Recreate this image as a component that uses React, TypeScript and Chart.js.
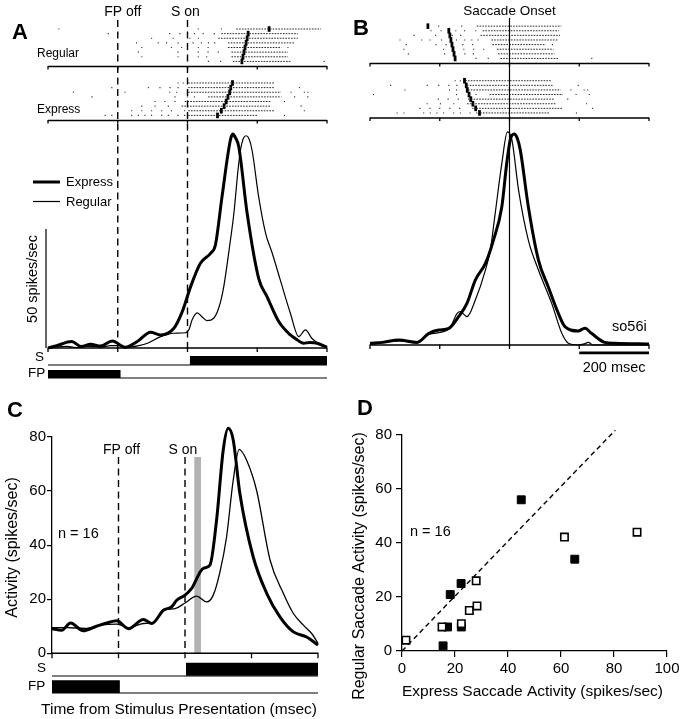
import React, { useEffect, useRef } from 'react';
import { Chart, registerables } from 'chart.js';
Chart.register(...registerables);

const FONT = '"Liberation Sans", Arial, Helvetica, sans-serif';

// ---------- shared time axis (ms) ----------
const timeTicks = [-400, -200, 0, 200, 400];
const fpOffTime = -200;
const stimOnTime = 0;
const fpBarA = [-400, -192];
const sBarA = [7, 400];
const fpBarC = [-400, -196];
const sBarC = [3, 400];
const scaleBarB = [200, 400];
const spikeScaleBar = 50;
const analysisWindow = [28, 48];
const analysisWindowTop = 72.6;

// ---------- Panel A rasters (time from stimulus): saccade mark, dense bursts, isolated spikes ----------
const rasterRegularA = [
  { mark: 234, dense: [[140, 383]], spikes: [-369, 31, 97] },
  { mark: 174, dense: [[97, 316]], spikes: [-227, -51, -22, 20, 45, 77] },
  { mark: 171, dense: [[88, 316]], spikes: [-103, -41, 7, 31] },
  { mark: 168, dense: [[116, 307]], spikes: [-146, -84, -60, -27, 16, 40, 60, 78] },
  { mark: 165, dense: [[116, 269]], spikes: [-131, -46, -17, 31, 59, 288] },
  { mark: 162, dense: [[126, 288]], spikes: [-141, -27, 31, 59, 88] },
  { mark: 159, dense: [[126, 288]], spikes: [-131, -27, 31, 55] },
  { mark: 156, dense: [[130, 297]], spikes: [60, 95, 392] },
];
const rasterExpressA = [
  { mark: 129, dense: [[2, 249]], spikes: [-27, -12] },
  { mark: 124, dense: [[2, 249]], spikes: [-217, -112, -79, -50, -27, 321] },
  { mark: 121, dense: [[2, 268]], spikes: [-327, -179, -51, -31, 297, 335, 345] },
  { mark: 116, dense: [[59, 269]], spikes: [-274, -36, 0, 20, 307, 345] },
  { mark: 111, dense: [[-8, 240]], spikes: [-93, -65, -36, 278] },
  { mark: 105, dense: [[-17, 240]], spikes: [-131, -93, -55, 326] },
  { mark: 97, dense: [[2, 249]], spikes: [-160, -131, -103, -74, -46, -8, 335] },
  { mark: 86, dense: [[2, 202]], spikes: [-236, -217, -160, -141, -122, -103, -74, -55, -27, -8, 278] },
];

// ---------- Panel A spike density (time from stimulus) ----------
const histAExpressT = [-400, -375, -332, -304, -278, -249, -216, -178, -144, -106, -77, -39, -15, 9, 37, 66, 80, 99, 123, 130, 137, 147, 171, 204, 228, 262, 295, 309, 333, 350, 372, 400];
const histAExpressV = [0, 1, 2.7, 0.6, 1.6, 0.8, 2.9, 0.3, 2.7, 6.6, 5.5, 8.3, 15.3, 25.8, 35.6, 39.8, 43.3, 63.6, 87.4, 89.9, 88.5, 84.6, 56.6, 29.3, 21.6, 11, 5.5, 4, 2, 2.3, 2, 0.3];
const histARegularT = [-400, -346, -320, -290, -249, -220, -196, -172, -140, -115, -77, -39, -6, 5, 13, 28, 42, 56, 75, 90, 104, 120, 133, 145, 152, 160, 168, 176, 185, 204, 224, 243, 266, 295, 319, 338, 357, 381, 400];
const histARegularV = [0, 0.7, 0.2, 0.8, 0.4, 1, 1, 0.3, 1, 2, 4.8, 6.2, 6.4, 8, 11.8, 14.8, 13, 11.5, 12.5, 17, 25.8, 42, 56.6, 75, 83.2, 88, 89.2, 88, 83.2, 63.6, 48.2, 39.8, 28.6, 14.6, 4.8, 7.6, 4, 1.3, 0.3];

// ---------- Panel B spike density (time from saccade onset) ----------
const histBExpressT = [-400, -365, -317, -265, -231, -203, -174, -146, -122, -98, -69, -46, -22, -8, 2, 13, 22, 31, 54, 83, 111, 140, 159, 197, 216, 235, 273, 303, 400];
const histBExpressV = [0.7, 1.1, 2.1, 1.1, 4.9, 6.3, 7, 11.9, 17.5, 27.3, 34.3, 44.1, 58.1, 76.3, 86.1, 88.7, 87, 81.9, 58.1, 35.7, 24.5, 13.3, 7.7, 5.9, 7, 4.9, 1.1, 0.7, 0.4];
const histBRegularT = [-400, -317, -265, -231, -174, -150, -141, -122, -98, -69, -55, -41, -22, -6, 7, 26, 54, 83, 121, 150, 169, 197, 215, 226, 240, 400];
const histBRegularV = [0.2, 1.7, 1.1, 4.5, 6.6, 13.3, 14, 11.9, 18.9, 31.5, 39.9, 55.3, 76.3, 89.6, 86.1, 65.1, 44.1, 31.5, 17.5, 4.9, 0.7, 0, 0.5, 1.1, 0, 0];

// ---------- Panel C population average (n = 16) ----------
const popExpressT = [-400, -371, -344, -306, -266, -235, -205, -170, -125, -100, -65, -40, -25, 0, 20, 55, 75, 95, 115, 130, 145, 165, 205, 246, 286, 326, 366, 400];
const popExpressV = [9.1, 8.5, 11.2, 8.3, 10, 11.2, 12, 9.1, 12.5, 11, 15.9, 17.2, 19.6, 21.5, 24, 31.4, 32.6, 49.3, 75.2, 83.2, 78.9, 59.1, 35.7, 22.1, 13.4, 7.9, 6, 3];
const popRegularT = [-400, -355, -300, -250, -205, -170, -125, -100, -60, -30, 0, 35, 65, 85, 105, 125, 145, 163, 185, 215, 256, 296, 326, 356, 381, 400];
const popRegularV = [9.5, 9.5, 9.2, 10.5, 10.8, 9.4, 11, 11.2, 16, 16.5, 18.6, 21.1, 19, 21.5, 30, 43, 64, 75.4, 71.5, 60.4, 34.4, 22.1, 14.7, 10.4, 7.3, 3.7];

// ---------- Panel D scatter ----------
const filledX = [15.5, 17.2, 18.2, 22.3, 22.4, 45, 65.2];
const filledY = [1.9, 8.9, 20.9, 25, 8.9, 56, 34];
const openX = [1.5, 15.1, 22.4, 25.4, 28.3, 28, 61.3, 88.7];
const openY = [4, 8.9, 10.1, 15, 16.7, 26, 42.2, 44];
const unityX = [0, 80.5];
const unityY = [0, 81.8];
const dTicks = { xMax: 100, yMax: 80, step: 20 };

// ---------- helpers ----------
const xy = (ts: number[], vs: number[]) => ts.map((t, i) => ({ x: t, y: vs[i] }));
const inRange = (t: number) => t >= -400 && t <= 400;
const DASH = [7, 4.5];

function lineDS(data: any[], yAxisID: string, width: number, extra: any = {}) {
  return {
    type: 'line', data, yAxisID, xAxisID: 'x', borderColor: '#000', backgroundColor: '#000',
    borderWidth: width, pointRadius: 0, fill: false, clip: false, tension: 0,
    borderCapStyle: 'butt', borderJoinStyle: 'round', ...extra,
  };
}
function curveDS(ts: number[], vs: number[], yAxisID: string, width: number) {
  return lineDS(xy(ts, vs), yAxisID, width, { cubicInterpolationMode: 'monotone' });
}
function alignOnSaccade(rows: any[]) {
  return rows.map((r) => ({
    mark: -r.mark,
    dense: r.dense.map(([s, e]: number[]) => [s - r.mark, e - r.mark]),
    spikes: r.spikes.map((t: number) => t - r.mark),
  }));
}
function rasterDatasets(rows: any[], yAxisID: string) {
  const n = rows.length;
  const out: any[] = [];
  rows.forEach((r, i) => {
    const y = n - i;
    r.dense.forEach(([s, e]: number[]) => {
      const a = Math.max(s, -400), b = Math.min(e, 400);
      if (b > a) out.push(lineDS([{ x: a, y }, { x: b, y }], yAxisID, 1, { borderDash: [1.6, 1.2], borderColor: '#2a2a2a' }));
    });
  });
  const spikes: any[] = [];
  rows.forEach((r, i) => r.spikes.filter(inRange).forEach((t: number) => spikes.push({ x: t, y: n - i })));
  out.push({ type: 'scatter', data: spikes, yAxisID, xAxisID: 'x', clip: false, pointStyle: 'rect', pointRadius: 0.8, borderWidth: 0, backgroundColor: '#333' });
  const marks: any[] = [];
  rows.forEach((r, i) => { if (inRange(r.mark)) marks.push({ x: r.mark, y: n - i }); });
  out.push({ type: 'scatter', data: marks, yAxisID, xAxisID: 'x', clip: false, pointStyle: 'line', rotation: 90, pointRadius: 2.8, borderWidth: 2.8, borderColor: '#000' });
  return out;
}
function hiddenY(min: number, max: number, stack: string, stackWeight: number, weight: number) {
  return { type: 'linear', axis: 'y', position: 'left', display: false, min, max, stack, stackWeight, weight };
}

function text(ctx: any, s: string, x: number, y: number, size: number, align = 'left', opts: any = {}) {
  ctx.save();
  ctx.font = `${opts.bold ? 'bold ' : ''}${size}px ${FONT}`;
  ctx.fillStyle = '#000';
  ctx.textAlign = align;
  ctx.textBaseline = opts.baseline || 'middle';
  if (opts.rot) { ctx.translate(x, y); ctx.rotate(opts.rot); ctx.fillText(s, 0, 0); }
  else ctx.fillText(s, x, y);
  ctx.restore();
}
function seg(ctx: any, x1: number, y1: number, x2: number, y2: number, w = 1.2, dash: number[] = []) {
  ctx.save();
  ctx.strokeStyle = '#000'; ctx.lineWidth = w; ctx.setLineDash(dash); ctx.lineCap = 'butt';
  ctx.beginPath(); ctx.moveTo(x1, y1); ctx.lineTo(x2, y2); ctx.stroke();
  ctx.restore();
}
function timeAxis(ctx: any, xs: any, y: number, tickLen: number, w = 1.3) {
  seg(ctx, xs.getPixelForValue(-400), y, xs.getPixelForValue(400), y, w);
  timeTicks.forEach((t) => { const p = xs.getPixelForValue(t); seg(ctx, p, y - 0.5, p, y + tickLen, w); });
}

const baseOptions = (padding: any) => ({
  responsive: false, animation: false, devicePixelRatio: 1, events: [],
  layout: { padding, autoPadding: false },
  plugins: { legend: { display: false }, tooltip: { enabled: false } },
});

// ---------- Panel A ----------
function configA() {
  const decor = {
    id: 'decorA',
    afterDraw(chart: any) {
      const { ctx } = chart;
      const x = chart.scales.x, yR = chart.scales.yReg, yE = chart.scales.yExp, yH = chart.scales.yHist;
      const base = yH.getPixelForValue(0);
      seg(ctx, x.getPixelForValue(fpOffTime), 20, x.getPixelForValue(fpOffTime), base + 1, 1.4, DASH);
      seg(ctx, x.getPixelForValue(stimOnTime), 20, x.getPixelForValue(stimOnTime), base + 4, 1.4, DASH);
      timeAxis(ctx, x, yR.bottom, 3);
      timeAxis(ctx, x, yE.bottom, 3);
      timeAxis(ctx, x, base, 4);
      text(ctx, 'A', 12, 39, 22, 'left', { bold: true, baseline: 'alphabetic' });
      text(ctx, 'FP off', x.getPixelForValue(fpOffTime) + 5, 12, 14, 'center');
      text(ctx, 'S on', x.getPixelForValue(stimOnTime) - 2, 12, 14, 'center');
      text(ctx, 'Regular', 37, 54, 12);
      text(ctx, 'Express', 37, 110, 12);
      seg(ctx, 33, 182, 60, 182, 3);
      text(ctx, 'Express', 66, 182.5, 13);
      seg(ctx, 33, 201.5, 60, 201.5, 1.2);
      text(ctx, 'Regular', 66, 202.5, 13);
      seg(ctx, 46, base, 46, yH.getPixelForValue(spikeScaleBar), 1.2);
      text(ctx, '50 spikes/sec', 33, 279, 14.5, 'center', { rot: -Math.PI / 2 });
      text(ctx, 'S', 35, 357, 13.5);
      text(ctx, 'FP', 28, 373, 13.5);
    },
  };
  return {
    type: 'scatter',
    data: {
      datasets: [
        ...rasterDatasets(rasterRegularA, 'yReg'),
        ...rasterDatasets(rasterExpressA, 'yExp'),
        curveDS(histARegularT, histARegularV, 'yHist', 1.2),
        curveDS(histAExpressT, histAExpressV, 'yHist', 3),
        lineDS([{ x: -400, y: 0 }, { x: 400, y: 0 }], 'yS', 1.2),
        lineDS([{ x: sBarA[0], y: 0.265 }, { x: sBarA[1], y: 0.265 }], 'yS', 9),
        lineDS([{ x: -400, y: 0 }, { x: 400, y: 0 }], 'yFP', 1.2),
        lineDS([{ x: fpBarA[0], y: 0.31 }, { x: fpBarA[1], y: 0.31 }], 'yFP', 8),
      ],
    },
    options: {
      ...baseOptions({ left: 48, right: 13, top: 24, bottom: 7 }),
      scales: {
        x: { type: 'linear', min: -400, max: 400, display: false },
        yReg: hiddenY(-0.1, 9.08, 'a', 42.5, 5),
        yExp: hiddenY(-0.1, 11.56, 'a', 54, 4),
        yHist: hiddenY(0, 95.6, 'a', 227.5, 3),
        yS: hiddenY(0, 1, 'a', 17, 2),
        yFP: hiddenY(0, 1, 'a', 13, 1),
      },
    },
    plugins: [decor],
  };
}

// ---------- Panel B ----------
function configB() {
  const decor = {
    id: 'decorB',
    afterDraw(chart: any) {
      const { ctx } = chart;
      const x = chart.scales.x, yR = chart.scales.yReg, yE = chart.scales.yExp, yH = chart.scales.yHist;
      const base = yH.getPixelForValue(0);
      const x0 = x.getPixelForValue(0);
      seg(ctx, x0, 18, x0, base + 2, 1.2);
      timeAxis(ctx, x, yR.bottom, 3);
      timeAxis(ctx, x, yE.bottom, 3);
      timeAxis(ctx, x, base, 4);
      text(ctx, 'B', 13, 35, 22, 'left', { bold: true, baseline: 'alphabetic' });
      text(ctx, 'Saccade Onset', x0, 11, 13.5, 'center');
      text(ctx, 'so56i', 272, 327, 14.5);
      text(ctx, '200 msec', (x.getPixelForValue(scaleBarB[0]) + x.getPixelForValue(scaleBarB[1])) / 2, 368, 14.5, 'center');
    },
  };
  return {
    type: 'scatter',
    data: {
      datasets: [
        ...rasterDatasets(alignOnSaccade(rasterRegularA), 'yReg'),
        ...rasterDatasets(alignOnSaccade(rasterExpressA), 'yExp'),
        curveDS(histBRegularT, histBRegularV, 'yHist', 1.2),
        curveDS(histBExpressT, histBExpressV, 'yHist', 3),
        lineDS([{ x: scaleBarB[0], y: 0.47 }, { x: scaleBarB[1], y: 0.47 }], 'yBar', 2.8),
      ],
    },
    options: {
      ...baseOptions({ left: 30, right: 36, top: 22, bottom: 20 }),
      scales: {
        x: { type: 'linear', min: -400, max: 400, display: false },
        yReg: hiddenY(-0.1, 8.9, 'b', 41.5, 5),
        yExp: hiddenY(-0.1, 11.75, 'b', 54.5, 4),
        yHist: hiddenY(0, 95.4, 'b', 227, 3),
        yBar: hiddenY(0, 1, 'b', 15, 2),
      },
    },
    plugins: [decor],
  };
}

// ---------- Panel C ----------
function configC() {
  const decor = {
    id: 'decorC',
    beforeDatasetsDraw(chart: any) {
      const { ctx } = chart;
      const x = chart.scales.x, yM = chart.scales.yMain;
      const base = yM.getPixelForValue(0);
      const wx0 = x.getPixelForValue(analysisWindow[0]), wx1 = x.getPixelForValue(analysisWindow[1]);
      const wy = yM.getPixelForValue(analysisWindowTop);
      ctx.save(); ctx.fillStyle = '#b2b2b2'; ctx.fillRect(wx0, wy, wx1 - wx0, base - wy); ctx.restore();
      seg(ctx, x.getPixelForValue(fpOffTime), 77, x.getPixelForValue(fpOffTime), base, 1.4, DASH);
      seg(ctx, x.getPixelForValue(stimOnTime), 77, x.getPixelForValue(stimOnTime), base, 1.4, DASH);
      timeAxis(ctx, x, base, 5);
    },
    afterDraw(chart: any) {
      const { ctx } = chart;
      const x = chart.scales.x;
      text(ctx, 'C', 7, 37, 22, 'left', { bold: true, baseline: 'alphabetic' });
      text(ctx, 'FP off', x.getPixelForValue(fpOffTime) + 3, 70, 14, 'center');
      text(ctx, 'S on', x.getPixelForValue(stimOnTime) - 2, 70, 14, 'center');
      text(ctx, 'n = 16', 58, 154, 14.5);
      text(ctx, 'S', 37, 288, 13.5);
      text(ctx, 'FP', 28, 306, 13.5);
      text(ctx, 'Time from Stimulus Presentation (msec)', 179, 329.5, 15.5, 'center');
      text(ctx, 'Activity (spikes/sec)', 12.5, 167.5, 16, 'center', { rot: -Math.PI / 2 });
    },
  };
  return {
    type: 'scatter',
    data: {
      datasets: [
        curveDS(popRegularT, popRegularV, 'yMain', 1.3),
        curveDS(popExpressT, popExpressV, 'yMain', 3),
        lineDS([{ x: -400, y: 0 }, { x: 400, y: 0 }], 'yS', 1.2),
        lineDS([{ x: sBarC[0], y: 0.3 }, { x: sBarC[1], y: 0.3 }], 'yS', 13),
        lineDS([{ x: -400, y: 0 }, { x: 400, y: 0 }], 'yFP', 1.2),
        lineDS([{ x: fpBarC[0], y: 0.38 }, { x: fpBarC[1], y: 0.38 }], 'yFP', 12.7),
      ],
    },
    options: {
      ...baseOptions({ left: 0, right: 22, top: 57, bottom: 26 }),
      scales: {
        x: { type: 'linear', min: -400, max: 400, display: false },
        yMain: {
          type: 'linear', axis: 'y', position: 'left', min: 0, max: 80, stack: 'c', stackWeight: 216, weight: 3,
          ticks: { stepSize: 20, font: { size: 15, family: FONT }, color: '#000', padding: 1 },
          grid: { drawOnChartArea: false, drawTicks: true, tickLength: 5, color: '#000', lineWidth: 1.2 },
          border: { display: true, color: '#000', width: 1.3 },
          afterFit: (s: any) => { s.width = 52; },
        },
        yS: hiddenY(0, 1, 'c', 22.7, 2),
        yFP: hiddenY(0, 1, 'c', 17, 1),
      },
    },
    plugins: [decor],
  };
}

// ---------- Panel D ----------
function configD() {
  const decor = {
    id: 'decorD',
    afterDraw(chart: any) {
      const { ctx } = chart;
      text(ctx, 'D', 17, 35, 22, 'left', { bold: true, baseline: 'alphabetic' });
      text(ctx, 'n = 16', 70, 152, 14.5);
      text(ctx, 'Express Saccade Activity (spikes/sec)', 192.5, 312, 15.5, 'center');
      text(ctx, 'Regular Saccade Activity (spikes/sec)', 20, 186, 16, 'center', { rot: -Math.PI / 2 });
    },
  };
  const axisCommon = {
    type: 'linear',
    grid: { drawOnChartArea: false, drawTicks: true, tickLength: 6, color: '#000', lineWidth: 1.2 },
    border: { display: true, color: '#000', width: 1.3 },
  };
  return {
    type: 'scatter',
    data: {
      datasets: [
        { type: 'line', data: xy(unityX, unityY), xAxisID: 'x', yAxisID: 'y', borderColor: '#000', borderWidth: 1.4, borderDash: [5, 3.5], pointRadius: 0, clip: false },
        { type: 'scatter', data: xy(openX, openY), xAxisID: 'x', yAxisID: 'y', pointStyle: 'rect', pointRadius: 5.2, borderWidth: 1.6, borderColor: '#000', backgroundColor: '#fff', clip: false },
        { type: 'scatter', data: xy(filledX, filledY), xAxisID: 'x', yAxisID: 'y', pointStyle: 'rect', pointRadius: 5.6, borderWidth: 1, borderColor: '#000', backgroundColor: '#000', clip: false },
      ],
    },
    options: {
      ...baseOptions({ left: 0, right: 18, top: 55, bottom: 8 }),
      scales: {
        x: {
          ...axisCommon, position: 'bottom', min: 0, max: dTicks.xMax,
          ticks: { stepSize: dTicks.step, font: { size: 15, family: FONT }, color: '#000', padding: 3, maxRotation: 0 },
          afterFit: (s: any) => { s.height = 60; },
        },
        y: {
          ...axisCommon, position: 'left', min: 0, max: dTicks.yMax,
          ticks: { stepSize: dTicks.step, font: { size: 15, family: FONT }, color: '#000', padding: 4 },
          afterFit: (s: any) => { s.width = 62; },
        },
      },
    },
    plugins: [decor],
  };
}

export default function App() {
  const a = useRef<HTMLCanvasElement>(null);
  const b = useRef<HTMLCanvasElement>(null);
  const c = useRef<HTMLCanvasElement>(null);
  const d = useRef<HTMLCanvasElement>(null);
  useEffect(() => {
    Chart.defaults.font.family = FONT;
    Chart.defaults.color = '#000';
    const charts = [
      new Chart(a.current as any, configA() as any),
      new Chart(b.current as any, configB() as any),
      new Chart(c.current as any, configC() as any),
      new Chart(d.current as any, configD() as any),
    ];
    return () => charts.forEach((ch) => ch.destroy());
  }, []);
  const st = (l: number, t: number): any => ({ position: 'absolute', left: l, top: t });
  return (
    <div style={{ position: 'absolute', left: 0, top: 0, width: 685, height: 719, background: '#fff', overflow: 'hidden' }}>
      <canvas ref={a} width={340} height={385} style={st(0, 0)} />
      <canvas ref={b} width={345} height={380} style={st(340, 0)} />
      <canvas ref={c} width={340} height={339} style={st(0, 380)} />
      <canvas ref={d} width={345} height={339} style={st(340, 380)} />
    </div>
  );
}
